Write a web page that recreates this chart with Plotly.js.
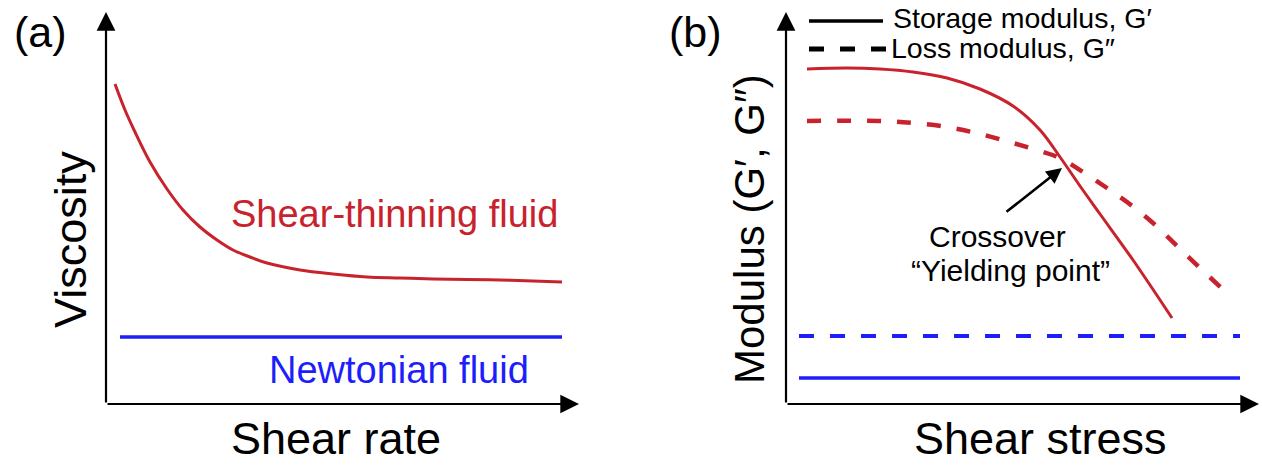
<!DOCTYPE html>
<html>
<head>
<meta charset="utf-8">
<script src="https://cdn.plot.ly/plotly-3.0.1.min.js"></script>
<style>html,body{margin:0;padding:0;background:#fff;}#chart{width:1262px;height:469px;}</style>
</head>
<body>
<div id="chart"></div>
<script>
// ---- Data (schematic, arbitrary units) ----
// Panel (a): viscosity vs shear rate
const shearRateA = [9, 19, 29, 44, 61, 77, 94, 111, 127, 144, 161, 194, 227, 261, 294, 327, 361, 394, 427, 456];
const viscosityShearThinning = [320, 294, 272, 242, 215, 194, 177, 164, 154, 147, 141, 134, 130, 127, 126, 125, 124.5, 124, 123, 122];
const shearRateNewtonian = [14, 456];
const viscosityNewtonian = [67, 67];

// Panel (b): modulus vs shear stress
const stressStorage = [21, 61, 94, 127, 161, 194, 227, 254, 274, 294, 314, 347, 386];
const storageModulus = [335, 336, 335, 332, 326, 315, 298, 274, 247, 218, 190, 144, 86];
const stressLoss = [21, 94, 127, 161, 194, 227, 254, 274, 297, 321, 341, 367, 391, 414, 442];
const lossModulus = [283, 283, 281, 277, 270, 261, 253, 246, 232, 216, 202, 181, 158, 136, 110];
const stressNewtonian = [13, 454];
const storageNewtonian = [26, 26];
const lossNewtonian = [68, 68];

// ---- Styles ----
const RED = 'rgb(200,35,45)';
const BLUE = 'rgb(30,30,250)';
const FONT = 'Liberation Sans, Arial, sans-serif';
const W = 1262, H = 469;
const px = v => v / W;
const py = v => (H - v) / H;

const traces = [
  {x: shearRateA, y: viscosityShearThinning, xaxis: 'x', yaxis: 'y', mode: 'lines',
   line: {color: RED, width: 3, shape: 'spline', smoothing: 1}, name: 'Shear-thinning fluid'},
  {x: shearRateNewtonian, y: viscosityNewtonian, xaxis: 'x', yaxis: 'y', mode: 'lines',
   line: {color: BLUE, width: 3.5}, name: 'Newtonian fluid'},
  {x: stressStorage, y: storageModulus, xaxis: 'x2', yaxis: 'y2', mode: 'lines',
   line: {color: RED, width: 3, shape: 'spline', smoothing: 1}, name: "G′ (shear-thinning)"},
  {x: stressLoss, y: lossModulus, xaxis: 'x2', yaxis: 'y2', mode: 'lines',
   line: {color: RED, width: 4.5, dash: '14px,16px', shape: 'spline', smoothing: 1}, name: "G″ (shear-thinning)"},
  {x: stressNewtonian, y: lossNewtonian, xaxis: 'x2', yaxis: 'y2', mode: 'lines',
   line: {color: BLUE, width: 4, dash: '15px,16px'}, name: "G″ (Newtonian)"},
  {x: stressNewtonian, y: storageNewtonian, xaxis: 'x2', yaxis: 'y2', mode: 'lines',
   line: {color: BLUE, width: 3.5}, name: "G′ (Newtonian)"}
];

const hiddenAxis = {showgrid: false, zeroline: false, showticklabels: false, ticks: '', showline: false, fixedrange: true};

function txt(x, y, text, size, color, extra) {
  return Object.assign({xref: 'paper', yref: 'paper', x: px(x), y: py(y), text: text, showarrow: false,
    xanchor: 'center', yanchor: 'middle', font: {family: FONT, size: size, color: color}}, extra || {});
}
function arrow(x, y, ax, ay, size, width) {
  return {xref: 'paper', yref: 'paper', x: px(x), y: py(y), ax: ax, ay: ay, text: '', showarrow: true,
    arrowhead: 2, arrowsize: size, arrowwidth: width, arrowcolor: '#000', standoff: 0};
}

const layout = {
  width: W, height: H,
  margin: {l: 0, r: 0, t: 0, b: 0},
  paper_bgcolor: '#fff', plot_bgcolor: 'rgba(0,0,0,0)',
  showlegend: false,
  xaxis: Object.assign({domain: [px(106), px(579)], range: [0, 473]}, hiddenAxis),
  yaxis: Object.assign({domain: [py(404), py(12)], range: [0, 392]}, hiddenAxis),
  xaxis2: Object.assign({domain: [px(786), px(1259)], range: [0, 473]}, hiddenAxis),
  yaxis2: Object.assign({domain: [py(404), py(12)], range: [0, 392], anchor: 'x2'}, hiddenAxis),
  shapes: [
    // legend keys
    {type: 'line', xref: 'paper', yref: 'paper', x0: px(809), x1: px(883), y0: py(21), y1: py(21),
     line: {color: '#000', width: 3.5}},
    {type: 'line', xref: 'paper', yref: 'paper', x0: px(809), x1: px(886), y0: py(49), y1: py(49),
     line: {color: '#000', width: 5, dash: '15px,16px'}}
  ],
  annotations: [
    // axes with arrowheads
    arrow(106, 12, 0, 392, 1.7, 2.2),
    arrow(579, 404, -473, 0, 1.7, 2.2),
    arrow(786, 12, 0, 392, 1.7, 2.2),
    arrow(1259, 404, -473, 0, 1.7, 2.2),
    // panel labels
    txt(40, 32, '(a)', 43, '#000'),
    txt(695, 32, '(b)', 43, '#000'),
    // axis titles
    txt(336, 438, 'Shear rate', 45, '#000'),
    txt(1040, 438, 'Shear stress', 45, '#000'),
    txt(70, 240, 'Viscosity', 45, '#000', {textangle: -90}),
    txt(749, 229, 'Modulus (G′, G″)', 42, '#000', {textangle: -90}),
    // curve labels
    txt(394, 214, 'Shear-thinning fluid', 38, RED),
    txt(399, 370, 'Newtonian fluid', 38, BLUE),
    // legend text
    txt(891, 18, 'Storage modulus, G′', 28.5, '#000', {xanchor: 'left'}),
    txt(889, 48, 'Loss modulus, G″', 28.5, '#000', {xanchor: 'left'}),
    // crossover annotation
    arrow(1062, 168, -57, 45, 1.2, 2.6),
    txt(997, 237, 'Crossover', 30, '#000'),
    txt(1010, 270, '“Yielding point”', 30, '#000')
  ]
};

Plotly.newPlot('chart', traces, layout, {displayModeBar: false, staticPlot: true});
</script>
</body>
</html>
